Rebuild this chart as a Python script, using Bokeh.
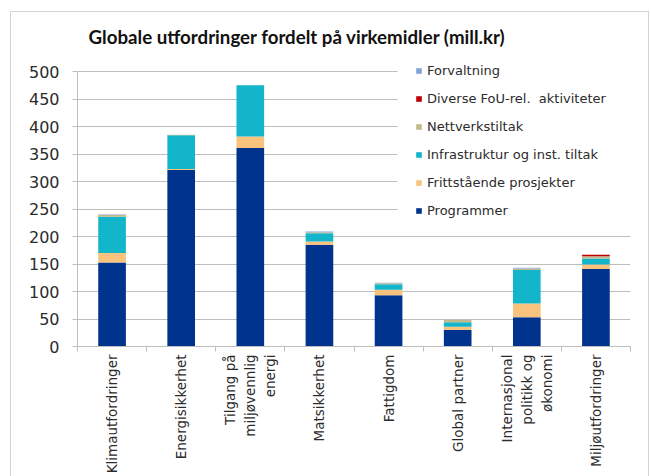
import math
from bokeh.plotting import figure
from bokeh.models import (Range1d, FixedTicker, Legend, LegendItem, BoxAnnotation,
                          Label, ColumnDataSource)
from bokeh.embed import file_html
from bokeh.resources import INLINE

# ---- data ----
categories = ["Klimautfordringer", "Energisikkerhet", "Tilgang på\nmiljøvennlig\nenergi",
              "Matsikkerhet", "Fattigdom", "Global partner",
              "Internasjonal\npolitikk og\nøkonomi", "Miljøutfordringer"]
programmer = [153, 321, 361, 185, 93, 30, 53, 141]
frittstaende = [17, 2, 21, 6, 10, 6, 25, 8]
infrastruktur = [66, 61, 93, 15, 10, 8, 61, 11]
nettverk = [3, 1, 0, 2, 2, 4, 3, 4]
diverse = [0, 0, 0, 0, 0, 0, 0, 3]
forvaltning = [1, 0, 0, 1, 1, 0, 1, 0]
series_names = ["Programmer", "Frittstående prosjekter", "Infrastruktur og inst. tiltak",
                "Nettverkstiltak", "Diverse FoU-rel.  aktiviteter", "Forvaltning"]
y_ticks = [0, 50, 100, 150, 200, 250, 300, 350, 400, 450, 500]
title_text = "Globale utfordringer fordelt på virkemidler (mill.kr)"

colors = ["#00338E", "#F9C27D", "#13B5CB", "#C4B98C", "#C00000", "#7EA6DB"]
GRID = "#BEBEBE"
TEXT = "#2B2B2B"

n = len(categories)
xs = [i + 0.5 for i in range(n)]
keys = ["programmer", "frittstaende", "infrastruktur", "nettverk", "diverse", "forvaltning"]
source = ColumnDataSource(data=dict(x=xs, programmer=programmer, frittstaende=frittstaende,
                                    infrastruktur=infrastruktur, nettverk=nettverk,
                                    diverse=diverse, forvaltning=forvaltning))

p = figure(width=651, height=476, output_backend="svg", toolbar_location=None,
           x_range=Range1d(0, n), y_range=Range1d(0, 602),
           min_border_left=77, min_border_right=21, min_border_top=15, min_border_bottom=130)
p.outline_line_color = None
p.border_fill_color = None
p.background_fill_color = "white"
p.styles = {
    "background-image": "linear-gradient(#D4D4D4,#D4D4D4), linear-gradient(#D4D4D4,#D4D4D4), linear-gradient(#D4D4D4,#D4D4D4)",
    "background-size": "639px 1px, 1px 100%, 1px 100%",
    "background-position": "10px 11px, 10px 11px, calc(100% - 2px) 11px",
    "background-repeat": "no-repeat",
}

# white area behind legend hiding gridlines
p.add_layout(BoxAnnotation(left=4.63, bottom=222, fill_color="white", fill_alpha=1,
                           line_color=None, level="underlay"))

rends = p.vbar_stack(keys, x="x", width=0.4, source=source,
                     fill_color=colors, line_color=None)

# axes
p.xgrid.visible = False
p.ygrid.ticker = FixedTicker(ticks=y_ticks)
p.ygrid.grid_line_color = GRID

ya = p.yaxis[0]
ya.ticker = FixedTicker(ticks=y_ticks)
ya.bounds = (0, 500)
ya.axis_line_color = GRID
ya.major_tick_line_color = GRID
ya.major_tick_out = 5
ya.major_tick_in = 0
ya.minor_tick_out = 0
ya.minor_tick_in = 0
ya.major_label_text_font = "DejaVu Sans"
ya.major_label_text_font_size = "16px"
ya.major_label_text_color = TEXT
ya.major_label_standoff = 13

xa = p.xaxis[0]
xa.ticker = FixedTicker(ticks=xs, minor_ticks=list(range(n + 1)))
xa.axis_line_color = GRID
xa.major_tick_out = 0
xa.major_tick_in = 0
xa.minor_tick_out = 5
xa.minor_tick_in = 0
xa.minor_tick_line_color = GRID
xa.major_label_overrides = {x: c for x, c in zip(xs, categories)}
xa.major_label_orientation = math.pi / 2
xa.major_label_text_font = "DejaVu Sans"
xa.major_label_text_font_size = "13.5px"
xa.major_label_text_color = TEXT
xa.major_label_text_line_height = 1.25
xa.major_label_standoff = 3

# legend
items = [LegendItem(label=name, renderers=[r]) for name, r in zip(series_names, rends)][::-1]
legend = Legend(items=items, location=(338, 126), padding=0, margin=0, spacing=8,
                label_height=20, glyph_width=7, glyph_height=7, label_standoff=5,
                label_text_font="DejaVu Sans", label_text_font_size="13px",
                label_text_color=TEXT, background_fill_alpha=0,
                border_line_color=None)
p.add_layout(legend)

p.add_layout(Label(x=11, y=310, x_units="screen", y_units="screen", text=title_text,
                   text_font="Lato", text_font_style="bold", text_font_size="18.7px",
                   text_color="#111111", text_baseline="middle", text_align="left"))

open("out.html", "w").write(file_html(p, INLINE))
